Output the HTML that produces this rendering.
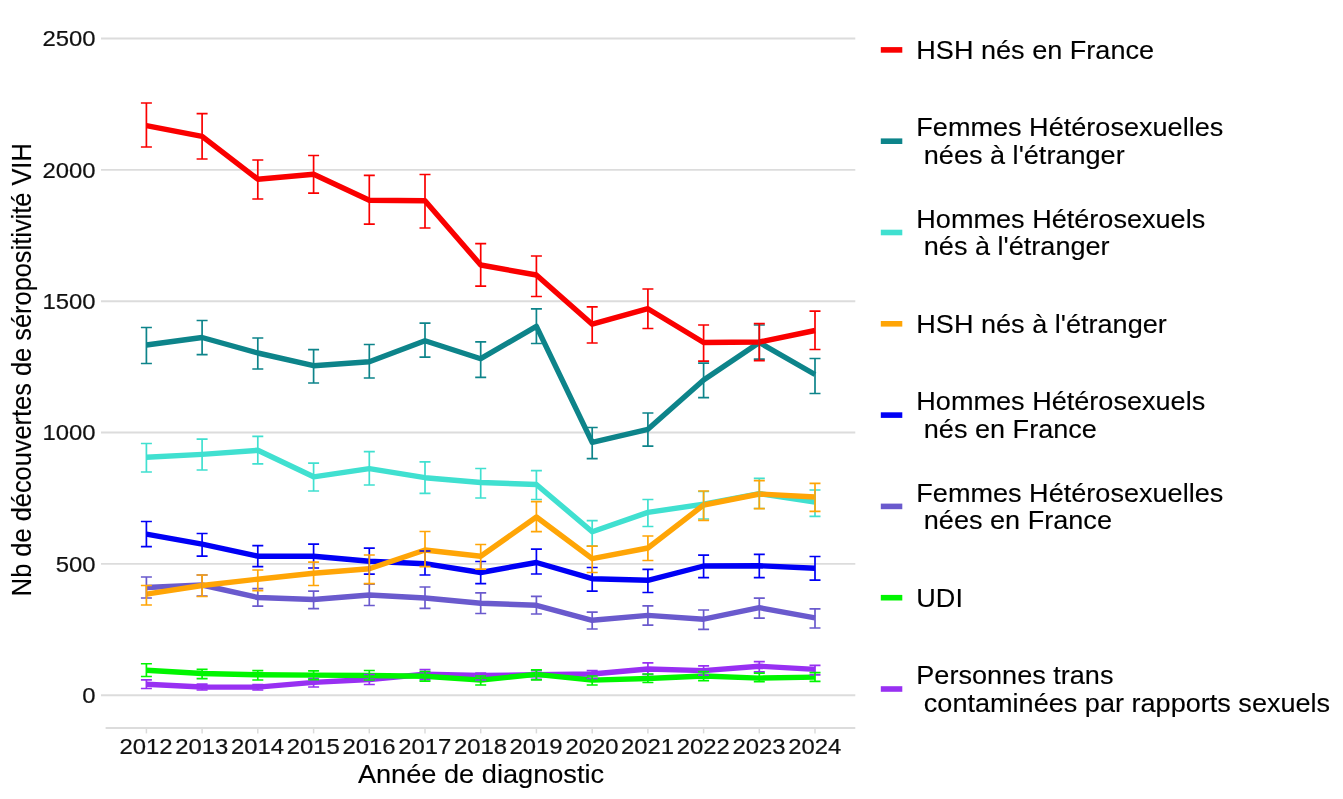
<!DOCTYPE html>
<html lang="fr"><head><meta charset="utf-8"><title>Découvertes de séropositivité VIH</title>
<style>html,body{margin:0;padding:0;background:#fff}body{width:1343px;height:799px;position:relative;overflow:hidden;font-family:"Liberation Sans",sans-serif}</style>
</head><body>
<svg width="1343" height="799" viewBox="0 0 1343 799" style="position:absolute;left:0;top:0">
<rect width="1343" height="799" fill="#fff"/>
<line x1="101" y1="695.2" x2="855.3" y2="695.2" stroke="#dcdcdc" stroke-width="1.9"/>
<line x1="101" y1="563.9" x2="855.3" y2="563.9" stroke="#dcdcdc" stroke-width="1.9"/>
<line x1="101" y1="432.5" x2="855.3" y2="432.5" stroke="#dcdcdc" stroke-width="1.9"/>
<line x1="101" y1="301.2" x2="855.3" y2="301.2" stroke="#dcdcdc" stroke-width="1.9"/>
<line x1="101" y1="169.9" x2="855.3" y2="169.9" stroke="#dcdcdc" stroke-width="1.9"/>
<line x1="101" y1="38.5" x2="855.3" y2="38.5" stroke="#dcdcdc" stroke-width="1.9"/>
<line x1="105.6" y1="728" x2="855.3" y2="728" stroke="#dcdcdc" stroke-width="1.9"/>
<line x1="146.4" y1="728" x2="146.4" y2="733.4" stroke="#dcdcdc" stroke-width="1.5"/>
<line x1="202.1" y1="728" x2="202.1" y2="733.4" stroke="#dcdcdc" stroke-width="1.5"/>
<line x1="257.8" y1="728" x2="257.8" y2="733.4" stroke="#dcdcdc" stroke-width="1.5"/>
<line x1="313.6" y1="728" x2="313.6" y2="733.4" stroke="#dcdcdc" stroke-width="1.5"/>
<line x1="369.3" y1="728" x2="369.3" y2="733.4" stroke="#dcdcdc" stroke-width="1.5"/>
<line x1="425.0" y1="728" x2="425.0" y2="733.4" stroke="#dcdcdc" stroke-width="1.5"/>
<line x1="480.7" y1="728" x2="480.7" y2="733.4" stroke="#dcdcdc" stroke-width="1.5"/>
<line x1="536.4" y1="728" x2="536.4" y2="733.4" stroke="#dcdcdc" stroke-width="1.5"/>
<line x1="592.2" y1="728" x2="592.2" y2="733.4" stroke="#dcdcdc" stroke-width="1.5"/>
<line x1="647.9" y1="728" x2="647.9" y2="733.4" stroke="#dcdcdc" stroke-width="1.5"/>
<line x1="703.6" y1="728" x2="703.6" y2="733.4" stroke="#dcdcdc" stroke-width="1.5"/>
<line x1="759.3" y1="728" x2="759.3" y2="733.4" stroke="#dcdcdc" stroke-width="1.5"/>
<line x1="815.0" y1="728" x2="815.0" y2="733.4" stroke="#dcdcdc" stroke-width="1.5"/>
<polyline points="146.4,684.3 202.1,687 257.8,687.1 313.6,682.4 369.3,679.5 425.0,674.3 480.7,675.5 536.4,674.8 592.2,674 647.9,669 703.6,670.6 759.3,666.2 815.0,669.4" stroke="#9830f2" stroke-width="5.4" fill="none" stroke-linejoin="round" stroke-linecap="butt"/>
<polyline points="146.4,670.3 202.1,673.5 257.8,674.8 313.6,675.1 369.3,675.5 425.0,676.3 480.7,680.1 536.4,674.4 592.2,680.1 647.9,678.5 703.6,676 759.3,678.1 815.0,677.1" stroke="#00f500" stroke-width="5.4" fill="none" stroke-linejoin="round" stroke-linecap="butt"/>
<polyline points="146.4,587.5 202.1,585 257.8,597.5 313.6,599.5 369.3,595 425.0,598 480.7,603.2 536.4,605.3 592.2,620.3 647.9,615.4 703.6,619.2 759.3,607.7 815.0,617.8" stroke="#6a5acd" stroke-width="5.4" fill="none" stroke-linejoin="round" stroke-linecap="butt"/>
<polyline points="146.4,534.2 202.1,544.2 257.8,556.2 313.6,556.2 369.3,561.2 425.0,563.7 480.7,572.5 536.4,562.5 592.2,578.7 647.9,580.3 703.6,566 759.3,565.8 815.0,568.3" stroke="#0000f5" stroke-width="5.4" fill="none" stroke-linejoin="round" stroke-linecap="butt"/>
<polyline points="146.4,457.3 202.1,454.4 257.8,450.3 313.6,476.8 369.3,468.7 425.0,477.7 480.7,482.5 536.4,484.5 592.2,531.7 647.9,512.4 703.6,504.2 759.3,493.6 815.0,502.2" stroke="#40e0d0" stroke-width="5.4" fill="none" stroke-linejoin="round" stroke-linecap="butt"/>
<polyline points="146.4,345 202.1,337.5 257.8,353 313.6,365.7 369.3,361.7 425.0,340.7 480.7,358.7 536.4,326.4 592.2,442.3 647.9,429.3 703.6,380 759.3,342.5 815.0,374.5" stroke="#0d848a" stroke-width="5.4" fill="none" stroke-linejoin="round" stroke-linecap="butt"/>
<polyline points="146.4,594.2 202.1,585.5 257.8,579.2 313.6,573.2 369.3,568.7 425.0,550 480.7,556.2 536.4,517 592.2,558.7 647.9,548 703.6,505 759.3,494 815.0,497" stroke="#ffa506" stroke-width="5.4" fill="none" stroke-linejoin="round" stroke-linecap="butt"/>
<polyline points="146.4,125.7 202.1,136.3 257.8,179.2 313.6,174.2 369.3,200.2 425.0,200.7 480.7,265 536.4,275 592.2,324.2 647.9,308.7 703.6,342.5 759.3,342 815.0,330.5" stroke="#fa0000" stroke-width="5.4" fill="none" stroke-linejoin="round" stroke-linecap="butt"/>
<path d="M146.4 679.9V688.5M140.9 679.9H151.9M140.9 688.5H151.9M202.1 684.2V690M196.6 684.2H207.6M196.6 690H207.6M257.8 684.5V690M252.3 684.5H263.3M252.3 690H263.3M313.6 678.5V687M308.1 678.5H319.1M308.1 687H319.1M369.3 674.5V684.5M363.8 674.5H374.8M363.8 684.5H374.8M425.0 669.7V679.6M419.5 669.7H430.5M419.5 679.6H430.5M480.7 673.2V680M475.2 673.2H486.2M475.2 680H486.2M536.4 670.6V679.3M530.9 670.6H541.9M530.9 679.3H541.9M592.2 670.6V678.5M586.7 670.6H597.7M586.7 678.5H597.7M647.9 662.9V674.4M642.4 662.9H653.4M642.4 674.4H653.4M703.6 665.8V675.2M698.1 665.8H709.1M698.1 675.2H709.1M759.3 661.6V671.9M753.8 661.6H764.8M753.8 671.9H764.8M815.0 665.3V674.8M809.5 665.3H820.5M809.5 674.8H820.5" stroke="#9830f2" stroke-width="1.7" fill="none"/>
<path d="M146.4 663.75V676.5M140.9 663.75H151.9M140.9 676.5H151.9M202.1 669.4V678.6M196.6 669.4H207.6M196.6 678.6H207.6M257.8 670.6V680M252.3 670.6H263.3M252.3 680H263.3M313.6 670.8V679.6M308.1 670.8H319.1M308.1 679.6H319.1M369.3 670.5V680M363.8 670.5H374.8M363.8 680H374.8M425.0 671.5V681.2M419.5 671.5H430.5M419.5 681.2H430.5M480.7 676V685M475.2 676H486.2M475.2 685H486.2M536.4 669.8V679.8M530.9 669.8H541.9M530.9 679.8H541.9M592.2 676V685M586.7 676H597.7M586.7 685H597.7M647.9 674V682.5M642.4 674H653.4M642.4 682.5H653.4M703.6 671.6V680.6M698.1 671.6H709.1M698.1 680.6H709.1M759.3 673.2V681.7M753.8 673.2H764.8M753.8 681.7H764.8M815.0 672.7V681.4M809.5 672.7H820.5M809.5 681.4H820.5" stroke="#00f500" stroke-width="1.7" fill="none"/>
<path d="M146.4 577V598M140.9 577H151.9M140.9 598H151.9M202.1 575V596M196.6 575H207.6M196.6 596H207.6M257.8 588.7V606.2M252.3 588.7H263.3M252.3 606.2H263.3M313.6 591.2V608.7M308.1 591.2H319.1M308.1 608.7H319.1M369.3 584.2V605.5M363.8 584.2H374.8M363.8 605.5H374.8M425.0 587V608.3M419.5 587H430.5M419.5 608.3H430.5M480.7 592.8V613.5M475.2 592.8H486.2M475.2 613.5H486.2M536.4 596.4V614M530.9 596.4H541.9M530.9 614H541.9M592.2 612.1V629M586.7 612.1H597.7M586.7 629H597.7M647.9 605.9V625.2M642.4 605.9H653.4M642.4 625.2H653.4M703.6 610V629.3M698.1 610H709.1M698.1 629.3H709.1M759.3 598.2V618.2M753.8 598.2H764.8M753.8 618.2H764.8M815.0 608.8V628M809.5 608.8H820.5M809.5 628H820.5" stroke="#6a5acd" stroke-width="1.7" fill="none"/>
<path d="M146.4 521.5V546.7M140.9 521.5H151.9M140.9 546.7H151.9M202.1 533.5V556.2M196.6 533.5H207.6M196.6 556.2H207.6M257.8 545.7V566.7M252.3 545.7H263.3M252.3 566.7H263.3M313.6 544.2V568M308.1 544.2H319.1M308.1 568H319.1M369.3 548.2V574.2M363.8 548.2H374.8M363.8 574.2H374.8M425.0 551V575M419.5 551H430.5M419.5 575H430.5M480.7 561.5V583.7M475.2 561.5H486.2M475.2 583.7H486.2M536.4 549.2V574M530.9 549.2H541.9M530.9 574H541.9M592.2 567.5V591.2M586.7 567.5H597.7M586.7 591.2H597.7M647.9 569.3V592.5M642.4 569.3H653.4M642.4 592.5H653.4M703.6 555.1V577.6M698.1 555.1H709.1M698.1 577.6H709.1M759.3 554.4V577.6M753.8 554.4H764.8M753.8 577.6H764.8M815.0 556.5V580.2M809.5 556.5H820.5M809.5 580.2H820.5" stroke="#0000f5" stroke-width="1.7" fill="none"/>
<path d="M146.4 443.5V472M140.9 443.5H151.9M140.9 472H151.9M202.1 439.2V470M196.6 439.2H207.6M196.6 470H207.6M257.8 436.4V463.8M252.3 436.4H263.3M252.3 463.8H263.3M313.6 463.2V491M308.1 463.2H319.1M308.1 491H319.1M369.3 451.6V485M363.8 451.6H374.8M363.8 485H374.8M425.0 461.8V493.3M419.5 461.8H430.5M419.5 493.3H430.5M480.7 468.5V498M475.2 468.5H486.2M475.2 498H486.2M536.4 470.7V499.5M530.9 470.7H541.9M530.9 499.5H541.9M592.2 520.7V546.2M586.7 520.7H597.7M586.7 546.2H597.7M647.9 499.5V526.5M642.4 499.5H653.4M642.4 526.5H653.4M703.6 491.5V519M698.1 491.5H709.1M698.1 519H709.1M759.3 478.4V508.5M753.8 478.4H764.8M753.8 508.5H764.8M815.0 490V516.4M809.5 490H820.5M809.5 516.4H820.5" stroke="#40e0d0" stroke-width="1.7" fill="none"/>
<path d="M146.4 327.5V363.5M140.9 327.5H151.9M140.9 363.5H151.9M202.1 320.5V354.7M196.6 320.5H207.6M196.6 354.7H207.6M257.8 338V369M252.3 338H263.3M252.3 369H263.3M313.6 349.7V383M308.1 349.7H319.1M308.1 383H319.1M369.3 344.5V378M363.8 344.5H374.8M363.8 378H374.8M425.0 323.2V357.2M419.5 323.2H430.5M419.5 357.2H430.5M480.7 341.8V377.4M475.2 341.8H486.2M475.2 377.4H486.2M536.4 308.8V343.5M530.9 308.8H541.9M530.9 343.5H541.9M592.2 427.5V458.6M586.7 427.5H597.7M586.7 458.6H597.7M647.9 413V446.1M642.4 413H653.4M642.4 446.1H653.4M703.6 363.2V397.7M698.1 363.2H709.1M698.1 397.7H709.1M759.3 325V359.2M753.8 325H764.8M753.8 359.2H764.8M815.0 358.5V393.5M809.5 358.5H820.5M809.5 393.5H820.5" stroke="#0d848a" stroke-width="1.7" fill="none"/>
<path d="M146.4 585.5V605M140.9 585.5H151.9M140.9 605H151.9M202.1 575V596.5M196.6 575H207.6M196.6 596.5H207.6M257.8 570V590.7M252.3 570H263.3M252.3 590.7H263.3M313.6 562.2V585.5M308.1 562.2H319.1M308.1 585.5H319.1M369.3 555V583.7M363.8 555H374.8M363.8 583.7H374.8M425.0 531.5V566.7M419.5 531.5H430.5M419.5 566.7H430.5M480.7 544.5V569.2M475.2 544.5H486.2M475.2 569.2H486.2M536.4 501.7V531.7M530.9 501.7H541.9M530.9 531.7H541.9M592.2 546.2V572.5M586.7 546.2H597.7M586.7 572.5H597.7M647.9 536V560.5M642.4 536H653.4M642.4 560.5H653.4M703.6 491V520.3M698.1 491H709.1M698.1 520.3H709.1M759.3 480.6V508.6M753.8 480.6H764.8M753.8 508.6H764.8M815.0 483.3V511.4M809.5 483.3H820.5M809.5 511.4H820.5" stroke="#ffa506" stroke-width="1.7" fill="none"/>
<path d="M146.4 103V147M140.9 103H151.9M140.9 147H151.9M202.1 113.7V159M196.6 113.7H207.6M196.6 159H207.6M257.8 160V199M252.3 160H263.3M252.3 199H263.3M313.6 155.5V193.2M308.1 155.5H319.1M308.1 193.2H319.1M369.3 175.3V224.2M363.8 175.3H374.8M363.8 224.2H374.8M425.0 174.5V228M419.5 174.5H430.5M419.5 228H430.5M480.7 243.7V286.2M475.2 243.7H486.2M475.2 286.2H486.2M536.4 256V296.5M530.9 256H541.9M530.9 296.5H541.9M592.2 306.8V343M586.7 306.8H597.7M586.7 343H597.7M647.9 289V328.5M642.4 289H653.4M642.4 328.5H653.4M703.6 325V361.2M698.1 325H709.1M698.1 361.2H709.1M759.3 323.7V360.7M753.8 323.7H764.8M753.8 360.7H764.8M815.0 311.2V349.5M809.5 311.2H820.5M809.5 349.5H820.5" stroke="#fa0000" stroke-width="1.7" fill="none"/>
<text transform="translate(95.6 703.1) scale(1.07 1)" text-anchor="end" font-size="22.3" fill="#111" stroke="#111" stroke-width="0.2" font-family="Liberation Sans, sans-serif">0</text>
<text transform="translate(95.6 571.8) scale(1.07 1)" text-anchor="end" font-size="22.3" fill="#111" stroke="#111" stroke-width="0.2" font-family="Liberation Sans, sans-serif">500</text>
<text transform="translate(95.6 440.4) scale(1.07 1)" text-anchor="end" font-size="22.3" fill="#111" stroke="#111" stroke-width="0.2" font-family="Liberation Sans, sans-serif">1000</text>
<text transform="translate(95.6 309.1) scale(1.07 1)" text-anchor="end" font-size="22.3" fill="#111" stroke="#111" stroke-width="0.2" font-family="Liberation Sans, sans-serif">1500</text>
<text transform="translate(95.6 177.8) scale(1.07 1)" text-anchor="end" font-size="22.3" fill="#111" stroke="#111" stroke-width="0.2" font-family="Liberation Sans, sans-serif">2000</text>
<text transform="translate(95.6 46.4) scale(1.07 1)" text-anchor="end" font-size="22.3" fill="#111" stroke="#111" stroke-width="0.2" font-family="Liberation Sans, sans-serif">2500</text>
<text transform="translate(146.1 754) scale(1.07 1)" text-anchor="middle" font-size="22.3" fill="#111" stroke="#111" stroke-width="0.2" font-family="Liberation Sans, sans-serif">2012</text>
<text transform="translate(201.8 754) scale(1.07 1)" text-anchor="middle" font-size="22.3" fill="#111" stroke="#111" stroke-width="0.2" font-family="Liberation Sans, sans-serif">2013</text>
<text transform="translate(257.5 754) scale(1.07 1)" text-anchor="middle" font-size="22.3" fill="#111" stroke="#111" stroke-width="0.2" font-family="Liberation Sans, sans-serif">2014</text>
<text transform="translate(313.3 754) scale(1.07 1)" text-anchor="middle" font-size="22.3" fill="#111" stroke="#111" stroke-width="0.2" font-family="Liberation Sans, sans-serif">2015</text>
<text transform="translate(369.0 754) scale(1.07 1)" text-anchor="middle" font-size="22.3" fill="#111" stroke="#111" stroke-width="0.2" font-family="Liberation Sans, sans-serif">2016</text>
<text transform="translate(424.7 754) scale(1.07 1)" text-anchor="middle" font-size="22.3" fill="#111" stroke="#111" stroke-width="0.2" font-family="Liberation Sans, sans-serif">2017</text>
<text transform="translate(480.4 754) scale(1.07 1)" text-anchor="middle" font-size="22.3" fill="#111" stroke="#111" stroke-width="0.2" font-family="Liberation Sans, sans-serif">2018</text>
<text transform="translate(536.1 754) scale(1.07 1)" text-anchor="middle" font-size="22.3" fill="#111" stroke="#111" stroke-width="0.2" font-family="Liberation Sans, sans-serif">2019</text>
<text transform="translate(591.9 754) scale(1.07 1)" text-anchor="middle" font-size="22.3" fill="#111" stroke="#111" stroke-width="0.2" font-family="Liberation Sans, sans-serif">2020</text>
<text transform="translate(647.6 754) scale(1.07 1)" text-anchor="middle" font-size="22.3" fill="#111" stroke="#111" stroke-width="0.2" font-family="Liberation Sans, sans-serif">2021</text>
<text transform="translate(703.3 754) scale(1.07 1)" text-anchor="middle" font-size="22.3" fill="#111" stroke="#111" stroke-width="0.2" font-family="Liberation Sans, sans-serif">2022</text>
<text transform="translate(759.0 754) scale(1.07 1)" text-anchor="middle" font-size="22.3" fill="#111" stroke="#111" stroke-width="0.2" font-family="Liberation Sans, sans-serif">2023</text>
<text transform="translate(814.7 754) scale(1.07 1)" text-anchor="middle" font-size="22.3" fill="#111" stroke="#111" stroke-width="0.2" font-family="Liberation Sans, sans-serif">2024</text>
<text transform="translate(481 782.9) scale(1.07 1)" text-anchor="middle" font-size="25.4" fill="#000" stroke="#000" stroke-width="0.12" font-family="Liberation Sans, sans-serif">Année de diagnostic</text>
<text transform="translate(31.3 369.7) scale(1.065 1) rotate(-90)" text-anchor="middle" font-size="25.4" fill="#000" stroke="#000" stroke-width="0.12" font-family="Liberation Sans, sans-serif">Nb de découvertes de séropositivité VIH</text>
<line x1="880.8" y1="49.9" x2="902.3" y2="49.9" stroke="#fa0000" stroke-width="5.6000000000000005"/>
<text transform="translate(916.3 58.8) scale(1.066 1)" font-size="25.4" fill="#000" stroke="#000" stroke-width="0.12" font-family="Liberation Sans, sans-serif"><tspan x="0.00" y="0.0">HSH nés en France</tspan></text>
<line x1="880.8" y1="141.2" x2="902.3" y2="141.2" stroke="#0d848a" stroke-width="5.6000000000000005"/>
<text transform="translate(916.3 136.4) scale(1.066 1)" font-size="25.4" fill="#000" stroke="#000" stroke-width="0.12" font-family="Liberation Sans, sans-serif"><tspan x="0.00" y="0.0">Femmes Hétérosexuelles</tspan><tspan x="7.06" y="27.6">nées à l'étranger</tspan></text>
<line x1="880.8" y1="232.5" x2="902.3" y2="232.5" stroke="#40e0d0" stroke-width="5.6000000000000005"/>
<text transform="translate(916.3 227.7) scale(1.066 1)" font-size="25.4" fill="#000" stroke="#000" stroke-width="0.12" font-family="Liberation Sans, sans-serif"><tspan x="0.00" y="0.0">Hommes Hétérosexuels</tspan><tspan x="7.06" y="27.6">nés à l'étranger</tspan></text>
<line x1="880.8" y1="323.8" x2="902.3" y2="323.8" stroke="#ffa506" stroke-width="5.6000000000000005"/>
<text transform="translate(916.3 332.7) scale(1.066 1)" font-size="25.4" fill="#000" stroke="#000" stroke-width="0.12" font-family="Liberation Sans, sans-serif"><tspan x="0.00" y="0.0">HSH nés à l'étranger</tspan></text>
<line x1="880.8" y1="415.1" x2="902.3" y2="415.1" stroke="#0000f5" stroke-width="5.6000000000000005"/>
<text transform="translate(916.3 410.3) scale(1.066 1)" font-size="25.4" fill="#000" stroke="#000" stroke-width="0.12" font-family="Liberation Sans, sans-serif"><tspan x="0.00" y="0.0">Hommes Hétérosexuels</tspan><tspan x="7.06" y="27.6">nés en France</tspan></text>
<line x1="880.8" y1="506.4" x2="902.3" y2="506.4" stroke="#6a5acd" stroke-width="5.6000000000000005"/>
<text transform="translate(916.3 501.6) scale(1.066 1)" font-size="25.4" fill="#000" stroke="#000" stroke-width="0.12" font-family="Liberation Sans, sans-serif"><tspan x="0.00" y="0.0">Femmes Hétérosexuelles</tspan><tspan x="7.06" y="27.6">nées en France</tspan></text>
<line x1="880.8" y1="597.7" x2="902.3" y2="597.7" stroke="#00f500" stroke-width="5.6000000000000005"/>
<text transform="translate(916.3 606.6) scale(1.066 1)" font-size="25.4" fill="#000" stroke="#000" stroke-width="0.12" font-family="Liberation Sans, sans-serif"><tspan x="0.00" y="0.0">UDI</tspan></text>
<line x1="880.8" y1="689.0" x2="902.3" y2="689.0" stroke="#9830f2" stroke-width="5.6000000000000005"/>
<text transform="translate(916.3 684.2) scale(1.066 1)" font-size="25.4" fill="#000" stroke="#000" stroke-width="0.12" font-family="Liberation Sans, sans-serif"><tspan x="0.00" y="0.0">Personnes trans</tspan><tspan x="7.06" y="27.6">contaminées par rapports sexuels</tspan></text>
</svg>
</body></html>
